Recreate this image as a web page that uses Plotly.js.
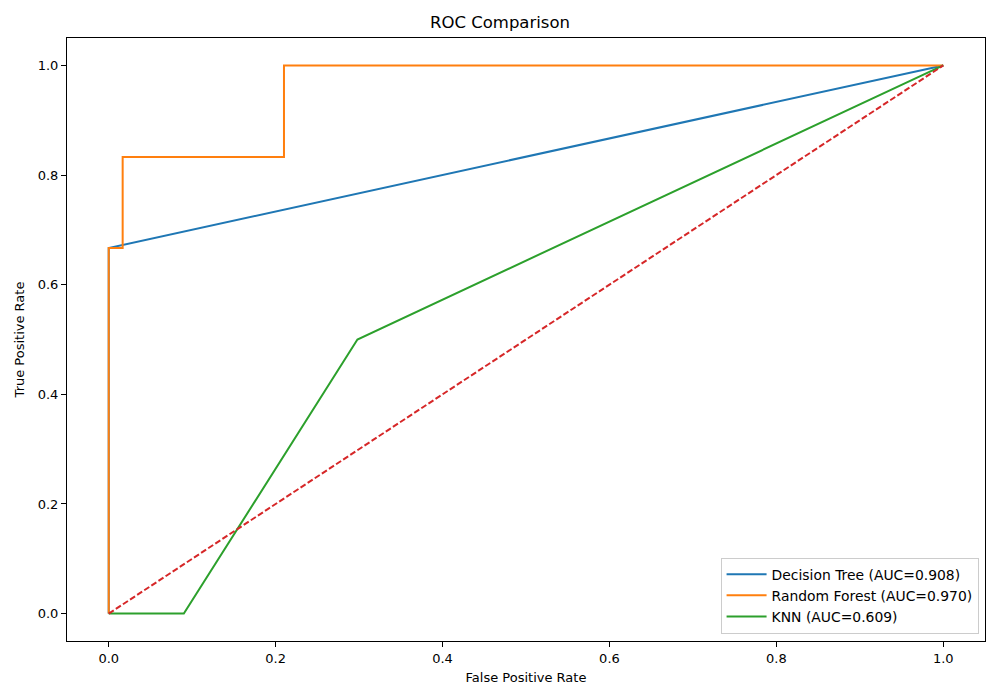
<!DOCTYPE html>
<html>
<head>
<meta charset="utf-8">
<script src="https://cdn.plot.ly/plotly-3.0.1.min.js"></script>
<style>body{margin:0;padding:0;background:#fff;}#chart{width:1000px;height:700px;}</style>
</head>
<body>
<div id="chart"></div>
<script>
const dtFpr = [0, 0, 1];
const dtTpr = [0, 0.667, 1];
const rfFpr = [0, 0, 0.0167, 0.0167, 0.210, 0.210, 1];
const rfTpr = [0, 0.667, 0.667, 0.833, 0.833, 1, 1];
const knnFpr = [0, 0.090, 0.298, 1];
const knnTpr = [0, 0, 0.5, 1];
const diagX = [0, 1];
const diagY = [0, 1];
const names = ["Decision Tree (AUC=0.908)", "Random Forest (AUC=0.970)", "KNN (AUC=0.609)"];
const tickVals = [0, 0.2, 0.4, 0.6, 0.8, 1.0];

const traces = [
  {x: dtFpr, y: dtTpr, mode: "lines", name: names[0], line: {color: "#1f77b4", width: 2}},
  {x: rfFpr, y: rfTpr, mode: "lines", name: names[1], line: {color: "#ff7f0e", width: 2}},
  {x: knnFpr, y: knnTpr, mode: "lines", name: names[2], line: {color: "#2ca02c", width: 2}},
  {x: diagX, y: diagY, mode: "lines", showlegend: false, line: {color: "#d62728", width: 2, dash: "6px,2.5px"}}
];

const axisCommon = {
  showgrid: false, zeroline: false, showline: true, mirror: true,
  linecolor: "#000", linewidth: 1, ticks: "outside", ticklen: 5, tickcolor: "#000",
  tickvals: tickVals, tickformat: ".1f",
  tickfont: {family: "DejaVu Sans", size: 13, color: "#000"}
};

const layout = {
  width: 1000, height: 700,
  margin: {l: 67, r: 15, t: 38, b: 59},
  paper_bgcolor: "#fff", plot_bgcolor: "#fff",
  title: {text: "ROC Comparison", x: 0.5, xanchor: "center", y: 0.968, yanchor: "middle",
          font: {family: "DejaVu Sans", size: 16.5, color: "#000"}},
  xaxis: Object.assign({}, axisCommon, {range: [-0.05, 1.05],
          title: {text: "False Positive Rate", standoff: 8, font: {family: "DejaVu Sans", size: 13, color: "#000"}}}),
  yaxis: Object.assign({}, axisCommon, {range: [-0.05, 1.05],
          title: {text: "True Positive Rate", standoff: 10, font: {family: "DejaVu Sans", size: 13, color: "#000"}}}),
  legend: {x: 0.993, y: 0.012, xanchor: "right", yanchor: "bottom",
           bordercolor: "#cccccc", borderwidth: 1, bgcolor: "rgba(255,255,255,0.8)",
           font: {family: "DejaVu Sans", size: 13.9, color: "#000"}, tracegroupgap: 0,
           itemwidth: 40},
  showlegend: true
};

Plotly.newPlot("chart", traces, layout, {displayModeBar: false, responsive: false});
</script>
</body>
</html>
